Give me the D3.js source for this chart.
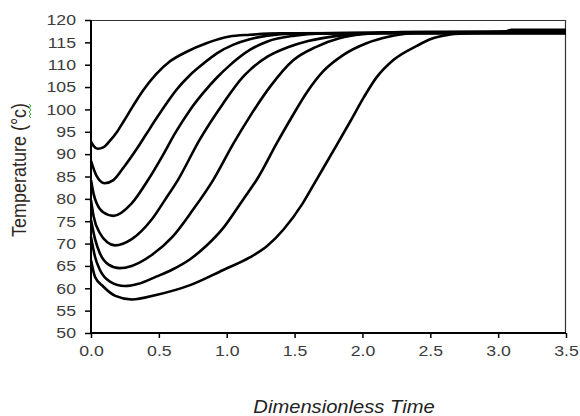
<!DOCTYPE html>
<html>
<head>
<meta charset="utf-8">
<script src="https://cdn.jsdelivr.net/npm/d3@7"></script>
<style>
  body { margin: 0; background: #fff; }
  svg { display: block; }
</style>
</head>
<body>
<svg id="chart" width="580" height="416"></svg>
<script>
// tick labels
var xTicks = [0, 0.5, 1.0, 1.5, 2.0, 2.5, 3.0, 3.5];
var yTicks = [50, 55, 60, 65, 70, 75, 80, 85, 90, 95, 100, 105, 110, 115, 120];

// curves: dimensionless time / temperature
var time1 = [0, 0.02, 0.05, 0.09, 0.14, 0.19, 0.24, 0.31, 0.385, 0.48, 0.58, 0.705, 0.85, 1.02, 1.17, 1.4, 1.8, 2.5, 3.5];
var temp1 = [92.8, 91.8, 91.2, 91.5, 93.0, 94.9, 97.3, 100.8, 104.3, 107.9, 110.7, 112.9, 114.8, 116.3, 116.7, 117.0, 117.0, 117.0, 117.0];

var time2 = [0, 0.04, 0.1, 0.165, 0.24, 0.34, 0.41, 0.48, 0.56, 0.63, 0.73, 0.83, 0.93, 1.05, 1.17, 1.3, 1.5, 2.0, 3.5];
var temp2 = [88.5, 85.2, 83.5, 84.2, 87.0, 91.3, 94.6, 97.9, 101.5, 104.4, 107.7, 110.3, 112.6, 114.5, 115.7, 116.5, 117.0, 117.1, 117.1];

var time3 = [0, 0.02, 0.042, 0.09, 0.165, 0.3, 0.42, 0.53, 0.62, 0.73, 0.83, 0.93, 1.02, 1.17, 1.3, 1.5, 1.7, 2.2, 3.5];
var temp3 = [84.2, 81.0, 79.0, 77.0, 76.2, 79.0, 84.2, 89.8, 94.7, 99.9, 103.8, 107.2, 109.8, 113.3, 115.2, 116.5, 117.0, 117.2, 117.2];

var time4 = [0, 0.02, 0.066, 0.12, 0.177, 0.3, 0.45, 0.55, 0.64, 0.8, 0.975, 1.12, 1.17, 1.3, 1.45, 1.6, 1.8, 2.0, 2.5, 3.5];
var temp4 = [79.7, 76.0, 72.3, 70.3, 69.6, 71.0, 75.5, 80.0, 84.2, 93.2, 101.4, 107.3, 108.8, 111.8, 113.9, 115.3, 116.4, 117.0, 117.3, 117.3];

var time5 = [0, 0.03, 0.066, 0.13, 0.21, 0.3, 0.45, 0.6, 0.75, 0.9, 1.05, 1.17, 1.32, 1.49, 1.66, 1.83, 2.0, 2.3, 3.5];
var temp5 = [75.3, 71.0, 67.8, 65.3, 64.5, 65.0, 67.5, 71.5, 77.5, 84.2, 92.4, 98.4, 105.1, 111.0, 114.0, 115.9, 116.8, 117.3, 117.4];

var time6 = [0, 0.03, 0.066, 0.14, 0.25, 0.35, 0.48, 0.6, 0.73, 0.85, 0.975, 1.08, 1.17, 1.22, 1.37, 1.47, 1.59, 1.71, 1.86, 2.03, 2.2, 2.4, 3.5];
var temp6 = [71.5, 67.0, 64.1, 61.5, 60.5, 61.0, 62.6, 64.2, 66.5, 69.5, 73.5, 78.0, 82.0, 84.2, 92.5, 97.8, 103.8, 108.5, 112.2, 114.8, 116.3, 117.1, 117.5];

var time7 = [0, 0.03, 0.09, 0.18, 0.3, 0.48, 0.73, 0.975, 1.17, 1.3, 1.42, 1.56, 1.66, 1.81, 1.91, 2.01, 2.1, 2.23, 2.4, 2.52, 2.62, 2.8, 3.05, 3.1, 3.5];
var temp7 = [66.3, 62.5, 60.4, 58.3, 57.5, 58.5, 60.7, 64.1, 66.9, 69.5, 73.2, 79.0, 84.2, 92.0, 97.3, 102.7, 107.0, 111.1, 114.2, 115.9, 116.6, 117.1, 117.4, 117.8, 117.8];

var series = [
  [time1, temp1], [time2, temp2], [time3, temp3], [time4, temp4],
  [time5, temp5], [time6, temp6], [time7, temp7]
];

(function() {
  var svg = d3.select("#chart"),
      pLeft = 91, pRight = 566, pTop = 20, pBottom = 333,
      font = "'Liberation Sans', Arial, sans-serif",
      stretch = 1.18;

  var x = d3.scaleLinear().domain([0, 3.5]).range([pLeft, pRight]);
  var y = d3.scaleLinear().domain([50, 120]).range([pBottom, pTop]);

  // frame: thin top and right
  svg.append("line").attr("x1", pLeft).attr("x2", pRight).attr("y1", pTop + 0.5).attr("y2", pTop + 0.5)
      .attr("stroke", "#333").attr("stroke-width", 1.2);
  svg.append("line").attr("x1", pRight - 0.5).attr("x2", pRight - 0.5).attr("y1", pTop).attr("y2", pBottom)
      .attr("stroke", "#333").attr("stroke-width", 1.2);

  // curves
  var line = d3.line()
      .x(function(d) { return x(d[0]); })
      .y(function(d) { return y(d[1]); })
      .curve(d3.curveMonotoneX);

  svg.append("g").selectAll("path")
    .data(series)
    .enter().append("path")
      .attr("d", function(s) { return line(d3.zip(s[0], s[1])); })
      .attr("fill", "none")
      .attr("stroke", "#000")
      .attr("stroke-width", 2.6)
      .attr("stroke-linejoin", "round");

  // y axis
  var gy = svg.append("g")
      .attr("transform", "translate(" + pLeft + ",0)")
      .call(d3.axisLeft(y).tickValues(yTicks).tickSize(6).tickSizeOuter(0).tickFormat(d3.format("d")));
  gy.select(".domain").remove();
  gy.selectAll(".tick line").attr("stroke", "#000").attr("stroke-width", 1.5);
  gy.selectAll(".tick text")
      .attr("x", -15 / stretch)
      .attr("transform", "scale(" + stretch + ",1)")
      .attr("font-family", font).attr("font-size", 15).attr("fill", "#3c3c3c");

  // x axis
  var gx = svg.append("g")
      .attr("transform", "translate(0," + pBottom + ")")
      .call(d3.axisBottom(x).tickValues(xTicks).tickSize(5).tickPadding(7.5).tickSizeOuter(0).tickFormat(d3.format(".1f")));
  gx.select(".domain").remove();
  gx.selectAll(".tick line").attr("stroke", "#000").attr("stroke-width", 1.5);
  gx.selectAll(".tick text")
      .attr("transform", "scale(" + stretch + ",1)")
      .attr("font-family", font).attr("font-size", 15).attr("fill", "#3c3c3c");

  // heavy left and bottom axis lines
  svg.append("line").attr("x1", pLeft).attr("x2", pLeft).attr("y1", pTop).attr("y2", pBottom + 1)
      .attr("stroke", "#000").attr("stroke-width", 2);
  svg.append("line").attr("x1", pLeft - 1).attr("x2", pRight).attr("y1", pBottom).attr("y2", pBottom)
      .attr("stroke", "#000").attr("stroke-width", 2);

  // titles
  svg.append("text")
      .attr("transform", "translate(344,413) scale(1.12,1)")
      .attr("text-anchor", "middle")
      .attr("font-family", font).attr("font-size", 18).attr("font-style", "italic")
      .attr("fill", "#222")
      .text("Dimensionless Time");

  svg.append("text")
      .attr("transform", "translate(26,170) rotate(-90) scale(1,1.1)")
      .attr("text-anchor", "middle")
      .attr("font-family", font).attr("font-size", 18)
      .attr("fill", "#2e2620")
      .text("Temperature (°c)");

  // spell-check squiggle under the unit
  svg.append("path")
      .attr("d", "M29,104 l2,2 l-2,2 l2,2 l-2,2 l2,2 l-2,2 l2,2")
      .attr("fill", "none").attr("stroke", "#3cb043").attr("stroke-width", 1);
})();
</script>
</body>
</html>
